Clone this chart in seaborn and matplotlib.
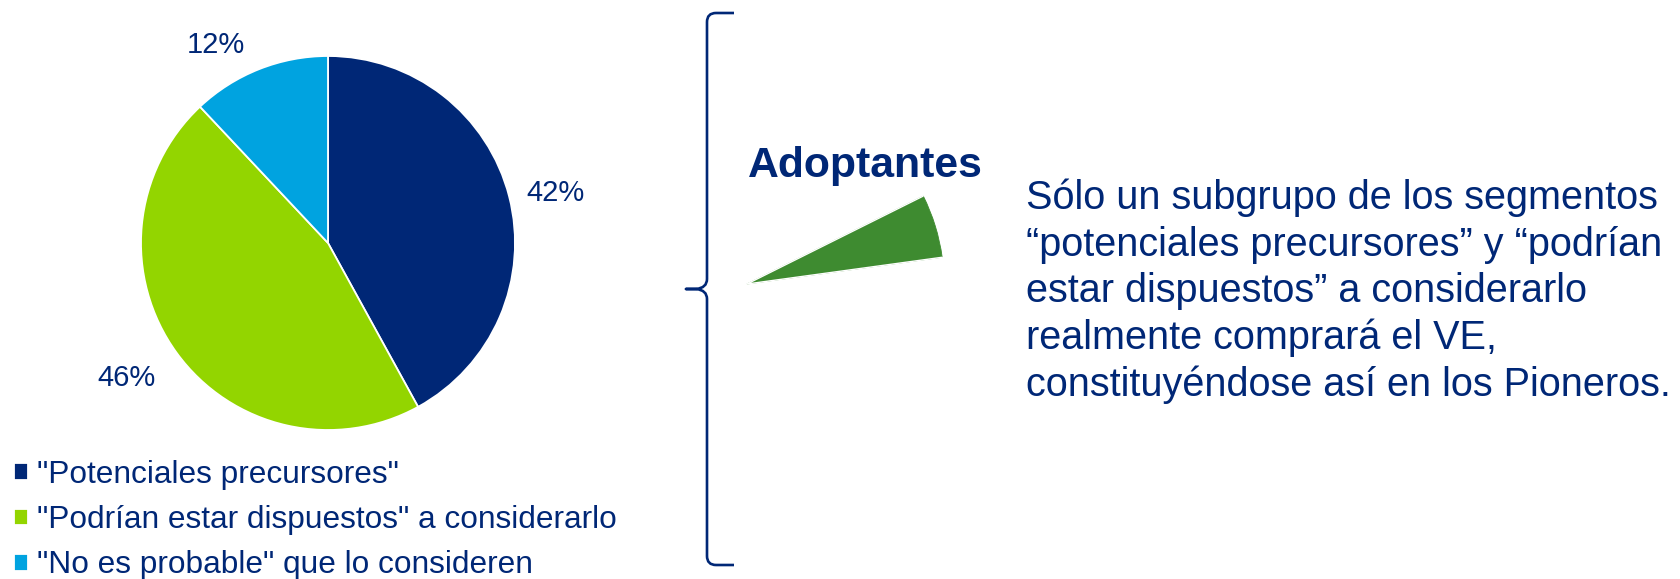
import matplotlib
matplotlib.use("Agg")
import matplotlib.pyplot as plt
from matplotlib.path import Path
from matplotlib.patches import PathPatch
import seaborn as sns

sns.set_theme(style="white")
plt.rcParams["font.family"] = ["Liberation Sans", "DejaVu Sans"]

# --- data -------------------------------------------------------------
segments = [
    '"Potenciales precursores"',
    '"Podrían estar dispuestos" a considerarlo',
    '"No es probable" que lo consideren',
]
shares = [42, 46, 12]
segment_colors = sns.color_palette(["#002776", "#93D500", "#00A3E0"])
# label anchor points around the pie, in pie-radius units
label_xy = [(1.214, 0.268), (-1.080, -0.721), (-0.599, 1.060)]

adopter_share = 5.2          # share of the whole that actually buys
adopter_start_angle = 7.8
adopter_color = "#3E8B30"
bracket_label = "Adoptantes"
note_lines = [
    "Sólo un subgrupo de los segmentos",
    "“potenciales precursores” y “podrían",
    "estar dispuestos” a considerarlo",
    "realmente comprará el VE,",
    "constituyéndose así en los Pioneros.",
]
text_color = "#002776"

# --- figure -----------------------------------------------------------
W, H = 1680, 579
fig = plt.figure(figsize=(W / 100, H / 100), dpi=100)
fig.patch.set_facecolor("white")


def square_axes(cx, cy, r):
    """Axes whose unit circle has centre (cx, cy) and radius r in pixels."""
    ax = fig.add_axes([(cx - r) / W, (H - cy - r) / H, 2 * r / W, 2 * r / H])
    ax.set_aspect("equal")
    ax.axis("off")
    return ax


# main pie
ax = square_axes(328, 243, 187)
wedges, _ = ax.pie(
    shares,
    colors=segment_colors,
    startangle=90,
    counterclock=False,
    wedgeprops=dict(edgecolor="white", linewidth=1.3),
)
ax.set_xlim(-1, 1)
ax.set_ylim(-1, 1)
for share, (lx, ly) in zip(shares, label_xy):
    ax.text(lx, ly, f"{share}%", ha="center", va="center",
            fontsize=21, color=text_color)

# legend
fig.legend(
    wedges, segments,
    loc="upper left", bbox_to_anchor=(14 / W, 1 - 460 / H),
    frameon=False, fontsize=22.8, labelcolor=text_color,
    handlelength=0.44, handleheight=0.44, handletextpad=0.28,
    labelspacing=0.48, borderpad=0, borderaxespad=0,
)

# adopters slice
wx = square_axes(747, 284, 197)
adopt_wedges, _ = wx.pie(
    [adopter_share, 100 - adopter_share],
    colors=[adopter_color, "none"],
    startangle=adopter_start_angle,
    counterclock=True,
)
adopt_wedges[0].set_edgecolor(adopter_color)
adopt_wedges[0].set_linewidth(0.6)
wx.set_xlim(-1, 1)
wx.set_ylim(-1, 1)

# overlay in pixel coordinates for the brace and the texts
ov = fig.add_axes([0, 0, 1, 1])
ov.set_xlim(0, W)
ov.set_ylim(H, 0)
ov.axis("off")
ov.patch.set_alpha(0)

brace_verts = [
    (734, 13), (716, 13), (707, 13), (707, 22),
    (707, 279), (707, 288), (696, 289), (686, 289),
    (696, 289), (707, 290), (707, 299),
    (707, 556), (707, 565), (716, 565), (734, 565),
]
brace_codes = [
    Path.MOVETO, Path.LINETO, Path.CURVE3, Path.CURVE3,
    Path.LINETO, Path.CURVE3, Path.CURVE3, Path.LINETO,
    Path.LINETO, Path.CURVE3, Path.CURVE3,
    Path.LINETO, Path.CURVE3, Path.CURVE3, Path.LINETO,
]
ov.add_patch(PathPatch(Path(brace_verts, brace_codes), fill=False,
                       edgecolor=text_color, linewidth=1.9,
                       capstyle="butt", joinstyle="round"))

ov.text(748, 166, bracket_label, ha="left", va="center", fontsize=30.8,
        fontweight="bold", color=text_color)

for i, line in enumerate(note_lines):
    ov.text(1026, 198 + i * 46.6, line, ha="left", va="center",
            fontsize=28.5, color=text_color)

fig.savefig("out.png", dpi=100, facecolor="white")
